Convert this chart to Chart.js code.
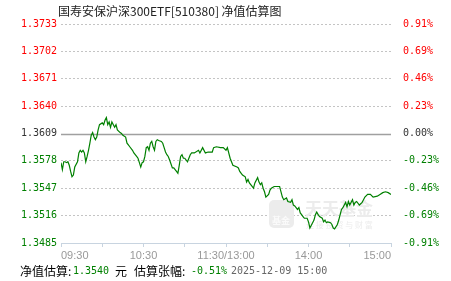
<!DOCTYPE html>
<html>
<head>
<meta charset="utf-8">
<script src="https://cdn.jsdelivr.net/npm/chart.js@4"></script>
<style>
  body { margin: 0; background: #fff; }
  canvas { display: block; }
</style>
</head>
<body>
<canvas id="navChart" width="451" height="281"></canvas>
<script>
const title = '国寿安保沪深300ETF[510380] 净值估算图';
const baseNav = 1.3609;

// minutes since 09:30 (lunch break removed), estimated NAV at that minute
const minutes = [
  0,1,2,3,4,5,6,7,8,9,
  10,12,13,14,15,16,17,18,19,20,
  21,22,23,24,25,26,27,28,30,31,
  32,33,34,35,36,37,39,40,41,43,
  44,45,47,48,49,50,52,53,54,55,
  56,57,58,59,60,61,62,63,64,65,
  66,67,68,69,70,71,73,74,75,76,
  77,78,79,81,82,83,84,85,86,87,
  88,89,90,92,93,94,95,97,100,101,
  103,105,107,110,111,113,116,118,120,121,
  123,124,125,128,129,130,132,134,135,136,
  137,139,140,141,143,144,145,146,147,148,
  149,151,152,153,155,157,159,160,161,162,
  164,165,167,168,169,170,172,173,174,175,
  176,177,179,180,181,183,184,185,186,187,
  188,190,191,192,193,194,196,197,198,199,
  201,202,203,204,205,207,208,209,210,212,
  213,214,215,217,219,220,221,223,225,227,
  230,232,234,236,238,240
];
const navValues = [
  1.3576,1.3568,1.3577,1.3577,1.3576,1.3577,1.3573,1.3566,1.3560,1.3562,
  1.3571,1.3577,1.3587,1.3590,1.3588,1.3590,1.3587,1.3577,1.3583,1.3590,
  1.3598,1.3607,1.3610,1.3605,1.3602,1.3605,1.3613,1.3619,1.3621,1.3619,
  1.3624,1.3627,1.3619,1.3622,1.3616,1.3622,1.3616,1.3619,1.3613,1.3610,
  1.3609,1.3607,1.3605,1.3598,1.3596,1.3594,1.3590,1.3587,1.3585,1.3583,
  1.3581,1.3576,1.3571,1.3576,1.3577,1.3583,1.3593,1.3594,1.3590,1.3598,
  1.3600,1.3594,1.3590,1.3600,1.3602,1.3601,1.3600,1.3598,1.3593,1.3588,
  1.3585,1.3583,1.3579,1.3570,1.3570,1.3568,1.3566,1.3564,1.3573,1.3583,
  1.3585,1.3581,1.3581,1.3577,1.3581,1.3585,1.3587,1.3587,1.3590,1.3587,
  1.3593,1.3587,1.3588,1.3588,1.3593,1.3594,1.3593,1.3593,1.3590,1.3593,
  1.3581,1.3577,1.3573,1.3571,1.3570,1.3566,1.3562,1.3560,1.3554,1.3557,
  1.3553,1.3549,1.3547,1.3553,1.3559,1.3554,1.3551,1.3553,1.3547,1.3543,
  1.3537,1.3540,1.3545,1.3547,1.3549,1.3549,1.3549,1.3543,1.3537,1.3534,
  1.3536,1.3532,1.3531,1.3534,1.3528,1.3527,1.3523,1.3525,1.3519,1.3517,
  1.3515,1.3513,1.3513,1.3509,1.3502,1.3508,1.3511,1.3517,1.3520,1.3517,
  1.3515,1.3513,1.3509,1.3511,1.3508,1.3509,1.3508,1.3506,1.3502,1.3501,
  1.3506,1.3511,1.3517,1.3523,1.3525,1.3531,1.3526,1.3532,1.3528,1.3534,
  1.3528,1.3531,1.3532,1.3528,1.3531,1.3534,1.3537,1.3540,1.3540,1.3537,
  1.3538,1.3540,1.3542,1.3543,1.3542,1.3540
];

const yTicks = [1.3733, 1.3702, 1.3671, 1.3640, 1.3609, 1.3578, 1.3547, 1.3516, 1.3485];
const pctLabels = ['0.91%', '0.69%', '0.46%', '0.23%', '0.00%', '-0.23%', '-0.46%', '-0.69%', '-0.91%'];
const xTickMinutes = [0, 30, 60, 90, 120, 150, 180, 210, 240];
const xTickLabels = { 0: '09:30', 60: '10:30', 120: '11:30/13:00', 180: '14:00', 240: '15:00' };

const footer = [
  { text: '净值估算:', x: 20, color: '#000', font: '12px "Noto Sans CJK SC"' },
  { text: '1.3540', x: 73, color: '#008000', font: '10px "DejaVu Sans Mono"' },
  { text: '元', x: 115, color: '#000', font: '12px "Noto Sans CJK SC"' },
  { text: '估算张幅:', x: 134, color: '#000', font: '12px "Noto Sans CJK SC"' },
  { text: '-0.51%', x: 191, color: '#008000', font: '10px "DejaVu Sans Mono"' },
  { text: '2025-12-09 15:00', x: 231, color: '#666', font: '10px "DejaVu Sans Mono"' }
];

const GREEN = '#008000';
const RED = '#ff0000';

function tickColor(v) {
  if (Math.abs(v - baseNav) < 1e-6) return '#333';
  return v > baseNav ? RED : GREEN;
}

const decor = {
  id: 'decor',
  beforeDatasetsDraw(chart) {
    const ctx = chart.ctx;
    const y = chart.scales.y;
    const area = chart.chartArea;
    ctx.save();
    // watermark
    ctx.fillStyle = '#ececec';
    ctx.beginPath();
    ctx.roundRect(269, 200, 25, 28, 5);
    ctx.fill();
    ctx.fillStyle = '#fafafa';
    ctx.font = 'bold 9px "Noto Sans CJK SC"';
    ctx.textBaseline = 'middle';
    ctx.fillText('基金', 272, 221);
    ctx.fillStyle = '#ececec';
    ctx.font = 'bold 17px "Noto Sans CJK SC"';
    ctx.fillText('天天基金', 305, 209);
    ctx.font = '8px "Noto Sans CJK SC"';
    ctx.fillText('连 接 投 资 与 财 富', 306, 225);
    // zero change line
    const py = Math.round(y.getPixelForValue(baseNav)) + 0.5;
    ctx.strokeStyle = '#a0a0a0';
    ctx.lineWidth = 1.5;
    ctx.beginPath();
    ctx.moveTo(area.left, py);
    ctx.lineTo(area.right, py);
    ctx.stroke();
    ctx.restore();
  },
  afterDraw(chart) {
    const ctx = chart.ctx;
    ctx.save();
    ctx.textBaseline = 'middle';
    ctx.fillStyle = '#222';
    ctx.font = '12px "Noto Sans CJK SC"';
    ctx.fillText(title, 58, 11);
    footer.forEach(part => {
      ctx.font = part.font;
      ctx.fillStyle = part.color;
      ctx.fillText(part.text, part.x, 271);
    });
    ctx.restore();
  }
};

new Chart(document.getElementById('navChart'), {
  type: 'line',
  data: {
    datasets: [{
      data: minutes.map((m, i) => ({ x: m, y: navValues[i] })),
      borderColor: GREEN,
      borderWidth: 1.2,
      pointRadius: 0,
      tension: 0,
      fill: false
    }]
  },
  options: {
    responsive: false,
    animation: false,
    layout: { padding: { top: 24, bottom: 16, left: 0, right: 0 } },
    plugins: { legend: { display: false }, tooltip: { enabled: false }, title: { display: false } },
    scales: {
      x: {
        type: 'linear',
        min: 0,
        max: 240,
        afterBuildTicks: s => { s.ticks = xTickMinutes.map(v => ({ value: v })); },
        afterFit: s => { s.height = 22; },
        grid: { drawOnChartArea: false, drawTicks: true, tickLength: 4, color: '#c8d4e0' },
        border: { color: '#c8d4e0', width: 1 },
        ticks: {
          autoSkip: false,
          maxRotation: 0,
          align: 'inner',
          padding: 2,
          color: '#999',
          font: { family: '"Liberation Sans", Arial', size: 11 },
          callback: v => xTickLabels[v] || ''
        }
      },
      y: {
        position: 'left',
        min: 1.3485,
        max: 1.3733,
        afterBuildTicks: s => { s.ticks = yTicks.map(v => ({ value: v })); },
        afterFit: s => { s.width = 61; },
        grid: {
          drawTicks: false,
          color: c => {
            const v = c.tick ? c.tick.value : 0;
            if (Math.abs(v - baseNav) < 1e-6 || Math.abs(v - 1.3485) < 1e-6) return 'rgba(0,0,0,0)';
            return '#c4c4c4';
          }
        },
        border: { display: false, dash: [2, 2] },
        ticks: {
          padding: 4,
          color: c => tickColor(c.tick.value),
          font: { family: '"DejaVu Sans Mono"', size: 10 },
          callback: v => v.toFixed(4)
        }
      },
      y2: {
        position: 'right',
        min: 1.3485,
        max: 1.3733,
        afterBuildTicks: s => { s.ticks = yTicks.map(v => ({ value: v })); },
        afterFit: s => { s.width = 60; },
        grid: { display: false },
        border: { display: false },
        ticks: {
          padding: 4,
          color: c => tickColor(c.tick.value),
          font: { family: '"DejaVu Sans Mono"', size: 10 },
          callback: (v, i) => pctLabels[yTicks.indexOf(v)] ?? pctLabels[i]
        }
      }
    }
  },
  plugins: [decor]
});
</script>
</body>
</html>
